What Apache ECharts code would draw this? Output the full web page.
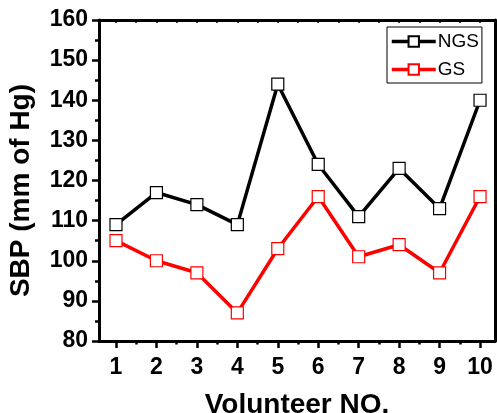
<!DOCTYPE html>
<html>
<head>
<meta charset="utf-8">
<script src="https://cdn.jsdelivr.net/npm/echarts@6/dist/echarts.min.js"></script>
<style>
  html, body { margin: 0; padding: 0; background: #fff; }
  #chart { width: 497px; height: 413px; }
</style>
</head>
<body>
<div id="chart"></div>
<script>
'use strict';

// 数据
var volunteers = [1, 2, 3, 4, 5, 6, 7, 8, 9, 10];
var minorX = [1.5, 2.5, 3.5, 4.5, 5.5, 6.5, 7.5, 8.5, 9.5];
var topX = [1, 1.5, 2, 2.5, 3, 3.5, 4, 4.5, 5, 5.5, 6, 6.5, 7, 7.5, 8, 8.5, 9, 9.5, 10];
var ngs = [109, 117, 114, 109, 144, 124, 111, 123, 113, 140];
var gs = [105, 100, 97, 87, 103, 116, 101, 104, 97, 116];

var font = 'Liberation Sans, Arial, sans-serif';

function pairs(vals) {
    return volunteers.map(function(v, i) { return [v, vals[i]]; });
}

var chart = echarts.init(document.getElementById('chart'));

var xMin = 0.58, xMax = 10.37;

var option = {
    animation: false,
    backgroundColor: '#fff',
    grid: { left: 99, right: 2, top: 20, bottom: 72, outerBoundsMode: 'none', containLabel: false },
    legend: {
        data: ['NGS', 'GS'],
        orient: 'vertical',
        left: 387,
        top: 27,
        borderColor: '#000',
        borderWidth: 1,
        borderRadius: 0,
        padding: [5, 3, 4, 3],
        itemWidth: 44,
        itemHeight: 13,
        itemGap: 9,
        lineStyle: { width: 'inherit' },
        textStyle: { fontFamily: font, fontSize: 19, color: '#000', padding: [0, 0, 0, -3] }
    },
    xAxis: [{
        type: 'value',
        min: xMin,
        max: xMax,
        position: 'bottom',
        name: 'Volunteer NO.',
        nameLocation: 'middle',
        nameGap: 50,
        nameTextStyle: { fontFamily: font, fontSize: 28, fontWeight: 'bold', color: '#000' },
        axisLine: { lineStyle: { color: '#000', width: 3 } },
        axisTick: { customValues: volunteers, length: 7, lineStyle: { color: '#000', width: 2.5 } },
        axisLabel: { customValues: volunteers, margin: 15, fontFamily: font, fontSize: 23, fontWeight: 'bold', color: '#000' },
        splitLine: { show: false }
    }, {
        type: 'value',
        min: xMin,
        max: xMax,
        position: 'bottom',
        axisLine: { show: false },
        axisTick: { customValues: minorX, length: 3.5, lineStyle: { color: '#000', width: 2.5 } },
        axisLabel: { show: false },
        splitLine: { show: false }
    }, {
        type: 'value',
        min: xMin,
        max: xMax,
        position: 'top',
        axisLine: { lineStyle: { color: '#000', width: 3 } },
        axisTick: { customValues: topX, inside: true, length: 3, lineStyle: { color: '#000', width: 1.5 } },
        axisLabel: { show: false },
        splitLine: { show: false }
    }],
    yAxis: [{
        type: 'value',
        min: 80,
        max: 160,
        interval: 10,
        position: 'left',
        name: 'SBP (mm of Hg)',
        nameLocation: 'middle',
        nameGap: 64,
        nameTextStyle: { fontFamily: font, fontSize: 28, fontWeight: 'bold', color: '#000', padding: [0, 20, 0, 0] },
        axisLine: { show: true, lineStyle: { color: '#000', width: 3 } },
        axisTick: { show: true, length: 7, lineStyle: { color: '#000', width: 2.5 } },
        minorTick: { show: true, splitNumber: 2, length: 4, lineStyle: { color: '#000', width: 2.5 } },
        axisLabel: { margin: 11, fontFamily: font, fontSize: 23, fontWeight: 'bold', color: '#000' },
        splitLine: { show: false }
    }, {
        type: 'value',
        min: 80,
        max: 160,
        position: 'right',
        axisLine: { show: true, lineStyle: { color: '#000', width: 3 } },
        axisTick: { show: false },
        axisLabel: { show: false },
        splitLine: { show: false }
    }],
    series: [{
        name: 'NGS',
        type: 'line',
        data: pairs(ngs),
        symbol: 'rect',
        symbolSize: 12,
        color: '#000',
        lineStyle: { color: '#000', width: 3.5 },
        itemStyle: { color: '#fff', borderColor: '#000', borderWidth: 1.2 }
    }, {
        name: 'GS',
        type: 'line',
        data: pairs(gs),
        symbol: 'rect',
        symbolSize: 12,
        color: '#f00',
        lineStyle: { color: '#f00', width: 3.5 },
        itemStyle: { color: '#fff', borderColor: '#f00', borderWidth: 1.2 }
    }]
};

chart.setOption(option);
</script>
</body>
</html>
